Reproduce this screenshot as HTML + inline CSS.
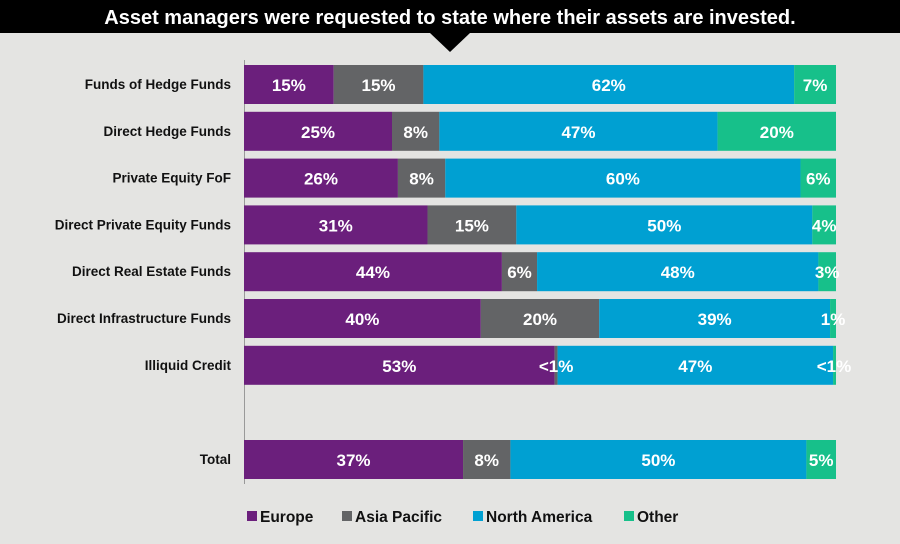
<!DOCTYPE html>
<html><head><meta charset="utf-8"><style>
html,body{margin:0;padding:0;background:#e4e4e2;}
svg{display:block;font-family:"Liberation Sans",Arial,sans-serif;}
</style></head><body>
<svg id="chart" width="900" height="544" viewBox="0 0 900 544" xmlns="http://www.w3.org/2000/svg">
<rect width="900" height="544" fill="#e4e4e2"/>
<rect x="0" y="0" width="900" height="33" fill="#000"/>
<polygon points="430,33 470,33 450,52" fill="#000"/>
<text x="450" y="24" text-anchor="middle" fill="#fff" font-weight="bold" font-size="20">Asset managers were requested to state where their assets are invested.</text>
<line x1="244.5" y1="60" x2="244.5" y2="484" stroke="#999" stroke-width="1"/>
<g id="bars"></g>
<g id="legend"></g>
</svg>
<script>
const categories = ["Funds of Hedge Funds","Direct Hedge Funds","Private Equity FoF","Direct Private Equity Funds","Direct Real Estate Funds","Direct Infrastructure Funds","Illiquid Credit","Total"];
const seriesNames = ["Europe","Asia Pacific","North America","Other"];
const europe = [15,25,26,31,44,40,53,37];
const asiaPacific = [15,8,8,15,6,20,0.5,8];
const northAmerica = [62,47,60,50,48,39,47,50];
const other = [7,20,6,4,3,1,0.5,5];
const europeLabels = ["15%","25%","26%","31%","44%","40%","53%","37%"];
const asiaLabels = ["15%","8%","8%","15%","6%","20%","<1%","8%"];
const naLabels = ["62%","47%","60%","50%","48%","39%","47%","50%"];
const otherLabels = ["7%","20%","6%","4%","3%","1%","<1%","5%"];

const colors = ["#6b1f7c","#636466","#00a0d2","#17c08a"];
const NS = "http://www.w3.org/2000/svg";
const X0 = 244, W = 592, BH = 39;
const rowTop = i => i < 7 ? 65 + i * 46.8 : 440;
const xScale = (v, total) => v / total * W;

const series = [europe, asiaPacific, northAmerica, other];
const labels = [europeLabels, asiaLabels, naLabels, otherLabels];
const slugs = ["europe","asia-pacific","north-america","other"];
const g = document.getElementById("bars");
categories.forEach((cat, i) => {
  const y = rowTop(i);
  const total = series.reduce((s, a) => s + a[i], 0);
  const t = document.createElementNS(NS, "text");
  t.setAttribute("x", 231); t.setAttribute("y", y + 24);
  t.setAttribute("text-anchor", "end"); t.setAttribute("font-size", "13.5");
  t.setAttribute("font-weight", "bold"); t.setAttribute("fill", "#111");
  t.textContent = cat;
  
  
  g.appendChild(t);
  let x = X0;
  series.forEach((arr, s) => {
    const w = xScale(arr[i], total);
    const r = document.createElementNS(NS, "rect");
    r.setAttribute("x", x); r.setAttribute("y", y);
    r.setAttribute("width", w); r.setAttribute("height", BH);
    r.setAttribute("fill", colors[s]);
    
    
    g.appendChild(r);
    x += w;
  });
  x = X0;
  series.forEach((arr, s) => {
    const w = xScale(arr[i], total);
    const l = document.createElementNS(NS, "text");
    let cx = x + w / 2;
    if (s === 3 && cx + 10 > X0 + W) cx = Math.min(cx, X0 + W - 2);
    l.setAttribute("x", cx); l.setAttribute("y", y + 26);
    l.setAttribute("text-anchor", "middle"); l.setAttribute("font-size", "17");
    l.setAttribute("font-weight", "bold"); l.setAttribute("fill", "#fff");
    l.textContent = labels[s][i];
    
    
    g.appendChild(l);
    x += w;
  });
});
const lg = document.getElementById("legend");
const legendX = [247, 342, 473, 624];
seriesNames.forEach((n, s) => {
  const r = document.createElementNS(NS, "rect");
  r.setAttribute("x", legendX[s]); r.setAttribute("y", 511);
  r.setAttribute("width", 10); r.setAttribute("height", 10);
  r.setAttribute("fill", colors[s]);
  
  
  lg.appendChild(r);
  const t = document.createElementNS(NS, "text");
  t.setAttribute("x", legendX[s] + 13); t.setAttribute("y", 522);
  t.setAttribute("font-size", "15.5"); t.setAttribute("font-weight", "bold");
  t.setAttribute("fill", "#111");
  t.textContent = n;
  
  
  lg.appendChild(t);
});
</script>
</body></html>
